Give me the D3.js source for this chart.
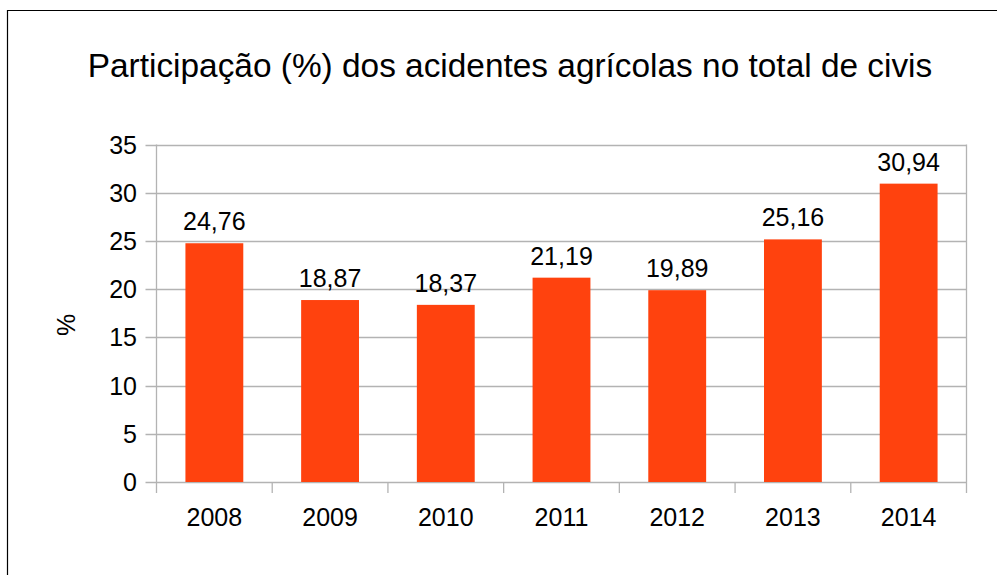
<!DOCTYPE html>
<html>
<head>
<meta charset="utf-8">
<script src="https://d3js.org/d3.v7.min.js"></script>
<style>
  body { margin: 0; background: #fff; }
  text { font-family: "Liberation Sans", Arial, sans-serif; fill: #000; }
</style>
</head>
<body>
<div id="chart"></div>
<script>
(function() {

    var years = ["2008", "2009", "2010", "2011", "2012", "2013", "2014"];
    var shares = [24.76, 18.87, 18.37, 21.19, 19.89, 25.16, 30.94];
    var yTicks = [0, 5, 10, 15, 20, 25, 30, 35];

    var width = 997,
        height = 575;

    var svg = d3.select("#chart")
        .append("svg")
        .attr("width", width)
        .attr("height", height)

    // outer frame (only left and top show in the picture)
    svg.append("path")
        .attr("d", "M7.5,575V10.5H997")
        .attr("fill", "none")
        .attr("stroke", "#000")
        .attr("stroke-width", 1.2)

    svg.append("text")
        .attr("x", 510)
        .attr("y", 77)
        .attr("text-anchor", "middle")
        .style("font-size", "33.4px")
        .text("Participação (%) dos acidentes agrícolas no total de civis")

    var left = 156.5, right = 966.5, top = 144.5, bottom = 482;

    var x = d3.scaleBand().domain(years).range([left, right]).paddingInner(0.5).paddingOuter(0.25)
    var xTick = d3.scaleBand().domain(years).range([left, right])
    var y = d3.scaleLinear().domain([0, 35]).range([bottom, top])

    var grid = "#b3b3b3";

    // horizontal grid + y ticks
    svg.selectAll(".grid")
        .data(yTicks)
        .enter().append("line")
        .attr("x1", left - 11)
        .attr("x2", right)
        .attr("y1", function(d) { return Math.round(y(d)) + 0.5 })
        .attr("y2", function(d) { return Math.round(y(d)) + 0.5 })
        .attr("stroke", grid)
        .attr("stroke-width", 1.3)

    // vertical axis lines left and right
    svg.selectAll(".vline")
        .data([left, right])
        .enter().append("line")
        .attr("x1", function(d) { return d })
        .attr("x2", function(d) { return d })
        .attr("y1", top)
        .attr("y2", bottom + 11)
        .attr("stroke", grid)
        .attr("stroke-width", 1.3)

    // x ticks between categories
    svg.selectAll(".xtick")
        .data(years.slice(1))
        .enter().append("line")
        .attr("x1", function(d) { return xTick(d) })
        .attr("x2", function(d) { return xTick(d) })
        .attr("y1", bottom)
        .attr("y2", bottom + 11)
        .attr("stroke", grid)
        .attr("stroke-width", 1.3)

    svg.selectAll(".ylabel")
        .data(yTicks)
        .enter().append("text")
        .attr("x", 137)
        .attr("y", function(d) { return y(d) + 9 })
        .attr("text-anchor", "end")
        .style("font-size", "25px")
        .text(function(d) { return d })

    svg.selectAll(".xlabel")
        .data(years)
        .enter().append("text")
        .attr("x", function(d) { return x(d) + x.bandwidth() / 2 })
        .attr("y", 526)
        .attr("text-anchor", "middle")
        .style("font-size", "25px")
        .text(function(d) { return d })

    svg.append("text")
        .attr("transform", "translate(75,325) rotate(-90)")
        .attr("text-anchor", "middle")
        .style("font-size", "25px")
        .text("%")

    var data = years.map(function(d, i) { return { year: d, value: shares[i] } });

    svg.selectAll(".bar")
        .data(data)
        .enter().append("rect")
        .attr("x", function(d) { return x(d.year) })
        .attr("width", x.bandwidth())
        .attr("y", function(d) { return y(d.value) })
        .attr("height", function(d) { return bottom - y(d.value) })
        .attr("fill", "#ff420e")

    svg.selectAll(".value")
        .data(data)
        .enter().append("text")
        .attr("x", function(d) { return x(d.year) + x.bandwidth() / 2 })
        .attr("y", function(d) { return y(d.value) - 13 })
        .attr("text-anchor", "middle")
        .style("font-size", "25px")
        .text(function(d) { return d.value.toFixed(2).replace(".", ",") })

})();
</script>
</body>
</html>
